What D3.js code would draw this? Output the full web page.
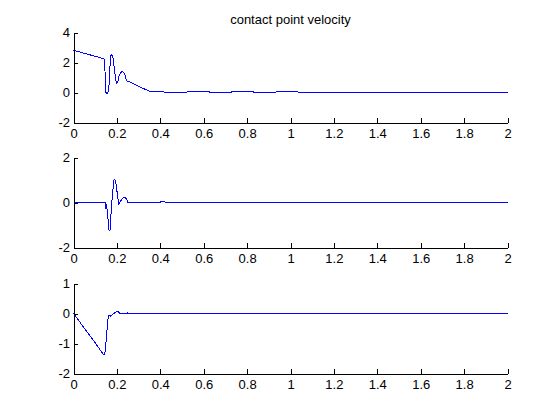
<!DOCTYPE html>
<html lang="en">
  <head>
    <meta charset="utf-8" />
    <title>contact point velocity</title>
    <script src="https://d3js.org/d3.v7.min.js"></script>
    <style>
      body { margin: 0; background: #fff; }
      svg { display: block; }
      .axis path, .axis line { stroke: #000; shape-rendering: crispEdges; }
      .axis text { fill: #000; }
    </style>
  </head>
  <body>
    <div id="chart"></div>
    <script>
      // values: [time, velocity]
      var vel1 = [
        [0, 2.83], [0.139, 2.27], [0.143, 2.22], [0.149, 0.02], [0.155, -0.09],
        [0.162, 0.13], [0.167, 1.26], [0.17, 2.49], [0.175, 2.52], [0.179, 2.47],
        [0.183, 2.25], [0.189, 1.48], [0.193, 1.03], [0.198, 0.63], [0.204, 0.7],
        [0.208, 1.03], [0.216, 1.32], [0.224, 1.41], [0.232, 1.35], [0.238, 1.15],
        [0.244, 0.81], [0.25, 0.76], [0.262, 0.7], [0.285, 0.54], [0.308, 0.36],
        [0.331, 0.22], [0.354, 0.07], [0.36, 0.06], [0.415, 0.06], [0.42, 0],
        [0.519, 0], [0.523, 0.05], [0.626, 0.05], [0.63, 0], [0.725, 0],
        [0.729, 0.05], [0.829, 0.05], [0.833, 0], [0.931, 0], [0.935, 0.05],
        [1.035, 0.05], [1.039, 0], [2, 0]
      ];
      var vel2 = [
        [0, 0], [0.146, 0], [0.148, -0.27], [0.151, -0.05], [0.154, -0.27],
        [0.158, -0.6], [0.164, -1.24], [0.168, -1.24], [0.173, -0.5], [0.178, 0.18],
        [0.186, 1.0], [0.19, 1.04], [0.193, 1.0], [0.198, 0.7], [0.203, 0.3],
        [0.209, -0.05], [0.216, 0.06], [0.232, 0.25], [0.244, 0.18], [0.251, 0],
        [0.4, 0], [0.404, 0.06], [0.42, 0.06], [0.424, 0], [2, 0]
      ];
      var vel3 = [
        [0, 0], [0.101, -0.99], [0.139, -1.38], [0.143, -1.37], [0.147, -1.21],
        [0.152, -0.77], [0.158, -0.22], [0.163, -0.06], [0.17, -0.09], [0.193, 0.04],
        [0.204, 0.08], [0.215, 0], [0.247, 0], [0.25, 0.02], [0.254, 0], [2, 0]
      ];

      var xTicks = [0, 0.2, 0.4, 0.6, 0.8, 1, 1.2, 1.4, 1.6, 1.8, 2];
      var xTickLabels = ["0", "0.2", "0.4", "0.6", "0.8", "1", "1.2", "1.4", "1.6", "1.8", "2"];
      var yTicks1 = [-2, 0, 2, 4];
      var yTickLabels1 = ["-2", "0", "2", "4"];
      var yTicks2 = [-2, 0, 2];
      var yTickLabels2 = ["-2", "0", "2"];
      var yTicks3 = [-2, -1, 0, 1];
      var yTickLabels3 = ["-2", "-1", "0", "1"];
      var title = "contact point velocity";

      var W = 560, H = 420;
      var left = 73.5, right = 507.5;
      var font = "'Liberation Sans', Arial, Helvetica, sans-serif";

      var panels = [
        { data: vel1, ticks: yTicks1, labels: yTickLabels1, top: 32.8, bottom: 122.5 },
        { data: vel2, ticks: yTicks2, labels: yTickLabels2, top: 157.8, bottom: 247.5 },
        { data: vel3, ticks: yTicks3, labels: yTickLabels3, top: 283.5, bottom: 373.5 }
      ];

      var svg = d3.select("#chart").append("svg")
        .attr("width", W)
        .attr("height", H);
      svg.append("rect").attr("width", W).attr("height", H).attr("fill", "#fff");

      var x = d3.scaleLinear().domain([0, 2]).range([left, right]);

      panels.forEach(function (p) {
        var y = d3.scaleLinear()
          .domain(d3.extent(p.ticks))
          .range([p.bottom, p.top]);

        var line = d3.line()
          .x(function (d) { return x(d[0]); })
          .y(function (d) { return y(d[1]); });

        // aliased like the matlab renderer
        svg.append("path")
          .datum(p.data)
          .attr("fill", "none")
          .attr("stroke", "#0000ff")
          .attr("stroke-width", 1)
          .attr("shape-rendering", "crispEdges")
          .attr("d", line);

        var gx = svg.append("g")
          .attr("class", "axis")
          .attr("transform", "translate(0," + p.bottom + ")")
          .call(d3.axisBottom(x)
            .tickValues(xTicks)
            .tickFormat(function (d, i) { return xTickLabels[i]; })
            .tickSizeInner(-4.5)
            .tickSizeOuter(0)
            .tickPadding(6));

        var gy = svg.append("g")
          .attr("class", "axis")
          .attr("transform", "translate(" + left + ",0)")
          .call(d3.axisLeft(y)
            .tickValues(p.ticks)
            .tickFormat(function (d, i) { return p.labels[i]; })
            .tickSizeInner(-4.5)
            .tickSizeOuter(0)
            .tickPadding(3.5));

        [gx, gy].forEach(function (g) {
          g.attr("font-family", font).attr("font-size", 13);
        });
      });

      svg.append("text")
        .attr("x", (left + right) / 2)
        .attr("y", 23.5)
        .attr("text-anchor", "middle")
        .attr("font-family", font)
        .attr("font-size", 13)
        .text(title);
    </script>
  </body>
</html>
